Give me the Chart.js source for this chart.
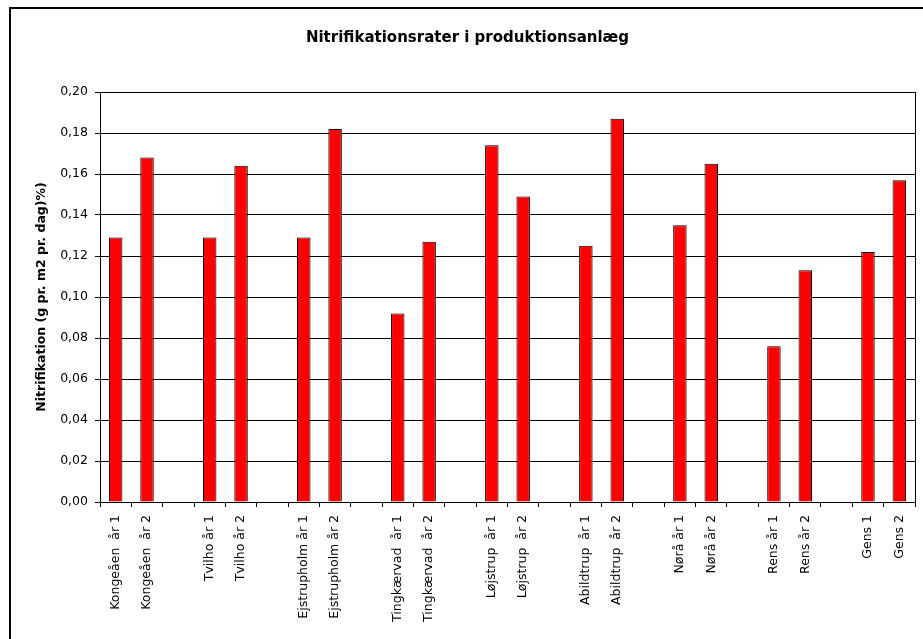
<!DOCTYPE html>
<html>
<head>
<meta charset="utf-8">
<style>
  html, body { margin: 0; padding: 0; background: #fff; overflow: hidden; }
  #frame { position: absolute; left: 9px; top: 7px; width: 2000px; height: 2000px;
           border-left: 2px solid #000; border-top: 2px solid #000; }
  #nitriChart { position: absolute; left: 0; top: 0; }
</style>
</head>
<body>
<div id="frame"></div>
<canvas id="nitriChart" width="923" height="639"></canvas>

<script src="https://cdn.jsdelivr.net/npm/chart.js"></script>
<script>
  // categories (empty strings are the gaps between plants)
  var labels = [
    'Kongeåen  år 1', 'Kongeåen  år 2', '',
    'Tvilho år 1', 'Tvilho år 2', '',
    'Ejstrupholm år 1', 'Ejstrupholm år 2', '',
    'Tingkærvad  år 1', 'Tingkærvad  år 2', '',
    'Løjstrup  år 1', 'Løjstrup  år 2', '',
    'Abildtrup  år 1', 'Abildtrup  år 2', '',
    'Nørå år 1', 'Nørå år 2', '',
    'Rens år 1', 'Rens år 2', '',
    'Gens 1', 'Gens 2'
  ];

  // nitrification rate, g pr. m2 pr. dag
  var rates = [
    0.129, 0.168, null,
    0.129, 0.164, null,
    0.129, 0.182, null,
    0.092, 0.127, null,
    0.174, 0.149, null,
    0.125, 0.187, null,
    0.135, 0.165, null,
    0.076, 0.113, null,
    0.122, 0.157
  ];

  var yMin = 0, yMax = 0.2, yStep = 0.02;

  var chartTitle = 'Nitrifikationsrater i produktionsanlæg';
  var yTitle = 'Nitrifikation (g pr. m2 pr. dag)%)';

  // right edge of the plot area
  var plotFrame = {
    id: 'plotFrame',
    afterDraw: function(chart) {
      var a = chart.chartArea, ctx = chart.ctx;
      ctx.save();
      ctx.strokeStyle = '#000';
      ctx.lineWidth = 1;
      ctx.beginPath();
      ctx.moveTo(Math.round(a.right) + 0.5, a.top);
      ctx.lineTo(Math.round(a.right) + 0.5, a.bottom);
      ctx.stroke();
      ctx.restore();
    }
  };

  var ctx = document.getElementById('nitriChart').getContext('2d');
  var chart = new Chart(ctx, {
    type: 'bar',
    data: {
      labels: labels,
      datasets: [{
        data: rates,
        backgroundColor: '#ff0000',
        borderColor: '#000',
        borderWidth: 1,
        categoryPercentage: 1,
        barPercentage: 0.43
      }]
    },
    options: {
      responsive: false,
      animation: false,
      devicePixelRatio: 1,
      layout: { padding: { left: 20, right: 8, top: 0, bottom: 0 } },
      plugins: {
        legend: { display: false },
        tooltip: { enabled: false },
        title: {
          display: true,
          text: chartTitle,
          color: '#000',
          font: { family: 'DejaVu Sans', size: 15, weight: 'bold' },
          padding: { top: 29, bottom: 45 }
        }
      },
      scales: {
        x: {
          grid: { offset: true, drawOnChartArea: false, drawTicks: true, tickLength: 5, color: '#000' },
          border: { color: '#000' },
          ticks: {
            autoSkip: false,
            maxRotation: 90,
            minRotation: 90,
            padding: 8,
            color: '#000',
            font: { family: 'DejaVu Sans', size: 12.5 }
          },
          afterFit: function(s) { s.height = 137; }
        },
        y: {
          min: yMin,
          max: yMax,
          grid: { color: '#000', tickLength: 5 },
          border: { color: '#000' },
          ticks: {
            stepSize: yStep,
            padding: 7,
            color: '#000',
            font: { family: 'DejaVu Sans', size: 12.5 },
            callback: function(v) { return v.toFixed(2).replace('.', ','); }
          },
          title: {
            display: true,
            text: yTitle,
            color: '#000',
            font: { family: 'DejaVu Sans', size: 12.5, weight: 'bold' },
            padding: { top: 14, bottom: 0 }
          },
          afterFit: function(s) { s.width = 80; }
        }
      }
    },
    plugins: [plotFrame]
  });
</script>
</body>
</html>
